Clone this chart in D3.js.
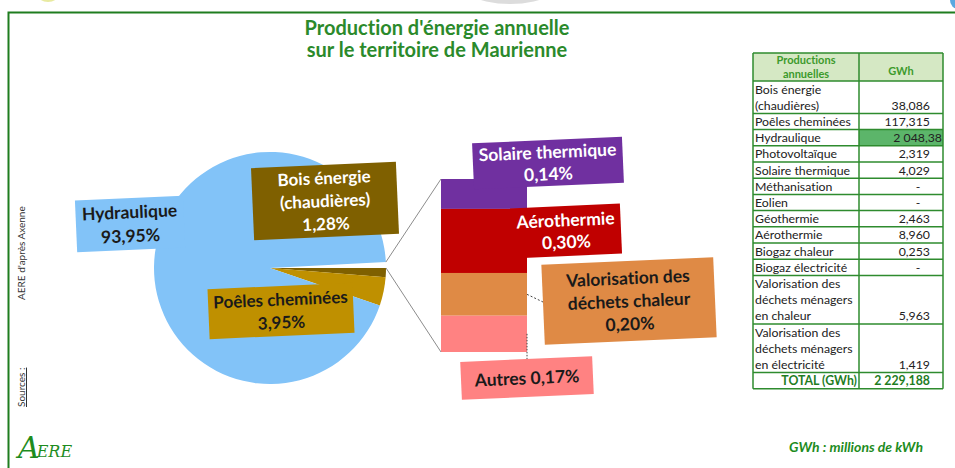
<!DOCTYPE html>
<html lang="fr">
<head>
<meta charset="UTF-8">
<title>Production d'énergie annuelle</title>
<script src="https://d3js.org/d3.v7.min.js"></script>
<style>
  body { margin: 0; background: #fff; }
  svg text { font-family: Lato, "Open Sans", sans-serif; font-variant-ligatures: none; }
</style>
</head>
<body>
<div id="chart"></div>
<script>
var width = 955, height = 468;

// pie: main categories (%), the small ones are grouped in the bar
var pieCategories = ["Hydraulique", "Bois énergie (chaudières)", "Poêles cheminées"];
var piePercent = [93.95, 1.28, 3.95];

// bar of pie: details of the grouped slice (%)
var barCategories = ["Solaire thermique", "Aérothermie", "Valorisation des déchets chaleur", "Autres"];
var barPercent = [0.14, 0.30, 0.20, 0.17];

// table
var tableLabels = [
  ["Bois énergie", "(chaudières)"], ["Poêles cheminées"], ["Hydraulique"], ["Photovoltaïque"],
  ["Solaire thermique"], ["Méthanisation"], ["Eolien"], ["Géothermie"], ["Aérothermie"],
  ["Biogaz chaleur"], ["Biogaz électricité"],
  ["Valorisation des", "déchets ménagers", "en chaleur"],
  ["Valorisation des", "déchets ménagers", "en électricité"]
];
var tableValues = ["38,086", "117,315", "2 048,38", "2,319", "4,029", "-", "-", "2,463", "8,960", "0,253", "-", "5,963", "1,419"];
var tableTotal = "2 229,188";

var green = "#1f7d1f";
var pct = function(v) { return d3.format(".2f")(v).replace(".", ",") + "%"; };

var svg = d3.select("#chart").append("svg")
    .attr("width", width)
    .attr("height", height);

svg.append("rect").attr("width", width).attr("height", height).attr("fill", "#fff");

// bits of pictures cut off by the top of the frame
svg.append("ellipse").attr("cx", 48).attr("cy", -8).attr("rx", 12).attr("ry", 10).attr("fill", "#e8eaa0");
svg.append("ellipse").attr("cx", 510).attr("cy", -30).attr("rx", 62).attr("ry", 34).attr("fill", "#dcdcdc");
svg.append("ellipse").attr("cx", 958).attr("cy", 0).attr("rx", 8).attr("ry", 9).attr("fill", "#5aa8e0");

// frame
svg.append("path")
    .attr("d", "M8.5,468 V12.5 H955")
    .attr("fill", "none")
    .attr("stroke", green)
    .attr("stroke-width", 2);

// title
svg.append("text")
    .attr("x", 437).attr("y", 0)
    .attr("text-anchor", "middle")
    .attr("fill", "#2b8a2b")
    .style("font-size", "20px").style("font-weight", "bold")
    .selectAll("tspan")
    .data(["Production d'énergie annuelle", "sur le territoire de Maurienne"])
    .join("tspan")
    .attr("x", 437)
    .attr("y", function(d, i) { return 35 + i * 22; })
    .text(function(d) { return d; });

// ---- label boxes
function labelBox(cx, cy, w, h, fill, lines, color, size, step) {
  var g = svg.append("g")
      .attr("transform", "translate(" + cx + "," + cy + ") rotate(-2.5)");
  g.append("rect")
      .attr("x", -w / 2).attr("y", -h / 2)
      .attr("width", w).attr("height", h)
      .attr("fill", fill);
  g.append("text")
      .attr("text-anchor", "middle")
      .attr("fill", color)
      .style("font-size", size + "px").style("font-weight", "bold")
      .selectAll("tspan")
      .data(lines)
      .join("tspan")
      .attr("x", 0)
      .attr("y", function(d, i) { return (i - (lines.length - 1) / 2) * step + size * 0.36; })
      .text(function(d) { return d; });
  return g;
}

var pieColors = ["#82c3f8", "#7f6000", "#bf9000"];
var barColors = ["#7030a0", "#c00000", "#df8a45", "#ff8282"];

// ---- pie
var cx = 270, cy = 268, r = 116;
var otherPercent = d3.sum(barPercent);
var pieValues = [otherPercent, piePercent[1], piePercent[2], piePercent[0]];
var pieFill = ["#ffffff", pieColors[1], pieColors[2], pieColors[0]];
var total = d3.sum(pieValues);
var start = Math.PI / 2 - otherPercent / total * 2 * Math.PI;

var pie = d3.pie().sort(null).value(function(d) { return d; })
    .startAngle(start).endAngle(start + 2 * Math.PI);
var arc = d3.arc().innerRadius(0).outerRadius(r);
var slices = pie(pieValues);

svg.append("g")
    .attr("transform", "translate(" + cx + "," + cy + ")")
    .selectAll("path")
    .data(slices)
    .join("path")
    .attr("d", arc)
    .attr("fill", function(d, i) { return pieFill[i]; });

// Hydraulique label, same colour as its slice
labelBox(130, 224, 108, 52, pieColors[0], ["Hydraulique", pct(piePercent[0])], "#1a1a1a", 17.5, 24);

// ---- bar of pie
var barX = 441, barW = 86;
var y = d3.scaleLinear().domain([0, otherPercent]).range([179, 352]);
var cum = [0].concat(Array.from(d3.cumsum(barPercent)));

svg.append("g")
    .selectAll("rect")
    .data(barPercent)
    .join("rect")
    .attr("x", barX)
    .attr("y", function(d, i) { return y(cum[i]); })
    .attr("width", barW)
    .attr("height", function(d) { return y(d) - y(0); })
    .attr("fill", function(d, i) { return barColors[i]; });

// connector lines pie -> bar
function edge(a) { return [cx + r * Math.sin(a), cy - r * Math.cos(a)]; }
var p0 = edge(slices[0].startAngle), p1 = edge(slices[0].endAngle);
svg.append("line")
    .attr("x1", p0[0]).attr("y1", p0[1]).attr("x2", barX).attr("y2", y(0))
    .attr("stroke", "#8c8c8c").attr("stroke-width", 1);
svg.append("line")
    .attr("x1", p1[0]).attr("y1", p1[1]).attr("x2", barX).attr("y2", y(otherPercent))
    .attr("stroke", "#8c8c8c").attr("stroke-width", 1);

// leader lines
svg.append("line")
    .attr("x1", barX + barW).attr("y1", (y(cum[2]) + y(cum[3])) / 2)
    .attr("x2", 543).attr("y2", 302)
    .attr("stroke", "#444").attr("stroke-dasharray", "2,2");
svg.append("line")
    .attr("x1", barX + barW).attr("y1", (y(cum[3]) + y(cum[4])) / 2)
    .attr("x2", barX + barW).attr("y2", 360)
    .attr("stroke", "#444").attr("stroke-dasharray", "1.5,1.5");

// pie labels
labelBox(325, 201, 145, 72, pieColors[1], ["Bois énergie", "(chaudières)", pct(piePercent[1])], "#ffffff", 17, 23);
labelBox(281, 311, 145, 50, pieColors[2], ["Poêles cheminées", pct(piePercent[2])], "#1a1a1a", 17, 23);

// bar labels
labelBox(548, 163, 150, 46, barColors[0], [barCategories[0], pct(barPercent[0])], "#ffffff", 17.5, 22);
labelBox(566, 231, 110, 50, barColors[1], [barCategories[1], pct(barPercent[1])], "#ffffff", 17.5, 22);
labelBox(629, 301, 172, 80, barColors[2], ["Valorisation des", "déchets chaleur", pct(barPercent[2])], "#1a1a1a", 17.5, 23);
labelBox(527, 378, 132, 38, barColors[3], [barCategories[3] + " " + pct(barPercent[3])], "#1a1a1a", 17.5, 22);

// ---- table
var tx0 = 753, tx1 = 859, tx2 = 943;
var headTop = 53, bodyTop = 81, lineH = 16.2;
var nLines = tableLabels.map(function(d) { return d.length; });
var lineStart = [0].concat(Array.from(d3.cumsum(nLines)));
var ty = d3.scaleLinear().domain([0, lineStart[lineStart.length - 1] + 1]).range([bodyTop, bodyTop + (lineStart[lineStart.length - 1] + 1) * lineH]);

var table = svg.append("g").style("font-size", "12.3px");

// header
table.append("rect").attr("x", tx0).attr("y", headTop).attr("width", tx2 - tx0).attr("height", bodyTop - headTop)
    .attr("fill", "#d5e8c4");
table.append("text").attr("text-anchor", "middle").attr("fill", "#3c9a2c")
    .style("font-weight", "bold").style("font-size", "11px")
    .selectAll("tspan").data(["Productions", "annuelles"]).join("tspan")
    .attr("x", (tx0 + tx1) / 2).attr("y", function(d, i) { return 64 + i * 14; })
    .text(function(d) { return d; });
table.append("text").attr("x", (tx1 + tx2) / 2).attr("y", 75).attr("text-anchor", "middle")
    .attr("fill", "#3c9a2c").style("font-weight", "bold").style("font-size", "11px").text("GWh");

// highlighted cell
var hIdx = tableLabels.findIndex(function(d) { return d[0] === "Hydraulique"; });
table.append("rect").attr("x", tx1).attr("y", ty(lineStart[hIdx])).attr("width", tx2 - tx1).attr("height", lineH)
    .attr("fill", "#5cb56a");

var rows = table.selectAll("g.row").data(tableLabels).join("g").attr("class", "row");
rows.append("text")
    .attr("fill", "#222")
    .selectAll("tspan")
    .data(function(d, i) { return d.map(function(t, k) { return { t: t, line: lineStart[i] + k }; }); })
    .join("tspan")
    .attr("x", tx0 + 2)
    .attr("y", function(d) { return ty(d.line) + lineH / 2 + 4.5; })
    .text(function(d) { return d.t; });
rows.append("text")
    .attr("fill", "#222")
    .attr("text-anchor", function(d, i) { return tableValues[i] === "-" ? "middle" : "end"; })
    .attr("x", function(d, i) { return tableValues[i] === "-" ? 918 : (i === hIdx ? tx2 - 1 : 930); })
    .attr("y", function(d, i) { return ty(lineStart[i + 1] - 1) + lineH / 2 + 4.5; })
    .text(function(d, i) { return tableValues[i]; });

// total row
var totTop = ty(lineStart[lineStart.length - 1]);
table.append("text").attr("x", tx1 - 2).attr("y", totTop + lineH / 2 + 4.5).attr("text-anchor", "end")
    .attr("fill", green).style("font-weight", "bold").text("TOTAL (GWh)");
table.append("text").attr("x", 930).attr("y", totTop + lineH / 2 + 4.5).attr("text-anchor", "end")
    .attr("fill", green).style("font-weight", "bold").text(tableTotal);

// grid
var hLines = [headTop, bodyTop].concat(lineStart.slice(1).map(function(l) { return ty(l); })).concat([totTop + lineH]);
table.selectAll("line.h").data(hLines).join("line").attr("class", "h")
    .attr("x1", tx0).attr("x2", tx2).attr("y1", function(d) { return d; }).attr("y2", function(d) { return d; })
    .attr("stroke", "#2e8b2e").attr("stroke-width", 1.5);
table.selectAll("line.v").data([tx0, tx1, tx2]).join("line").attr("class", "v")
    .attr("x1", function(d) { return d; }).attr("x2", function(d) { return d; })
    .attr("y1", headTop).attr("y2", totTop + lineH)
    .attr("stroke", "#2e8b2e").attr("stroke-width", 1.5);

// ---- sources (vertical)
var src = svg.append("g").attr("transform", "translate(25,0) rotate(-90)")
    .style("font-size", "10px").attr("fill", "#333");
src.append("text").attr("x", -407).attr("y", 0).style("text-decoration", "underline").text("Sources :");
src.append("text").attr("x", -300).attr("y", 0).text("AERE d'après Axenne");

// ---- logo
var logo = svg.append("text").attr("x", 18).attr("y", 458).attr("fill", "#1e8c1e")
    .style("font-family", "'DejaVu Serif', serif").style("font-style", "italic");
logo.append("tspan").style("font-size", "30px").text("A");
logo.append("tspan").style("font-size", "16px").attr("dx", -3).attr("dy", -1).text("ERE");

// unit note
svg.append("text").attr("x", 923).attr("y", 452).attr("text-anchor", "end")
    .attr("fill", "#1e8c1e").style("font-size", "14px").style("font-weight", "bold").style("font-style", "italic")
    .text("GWh : millions de kWh");
</script>
</body>
</html>
